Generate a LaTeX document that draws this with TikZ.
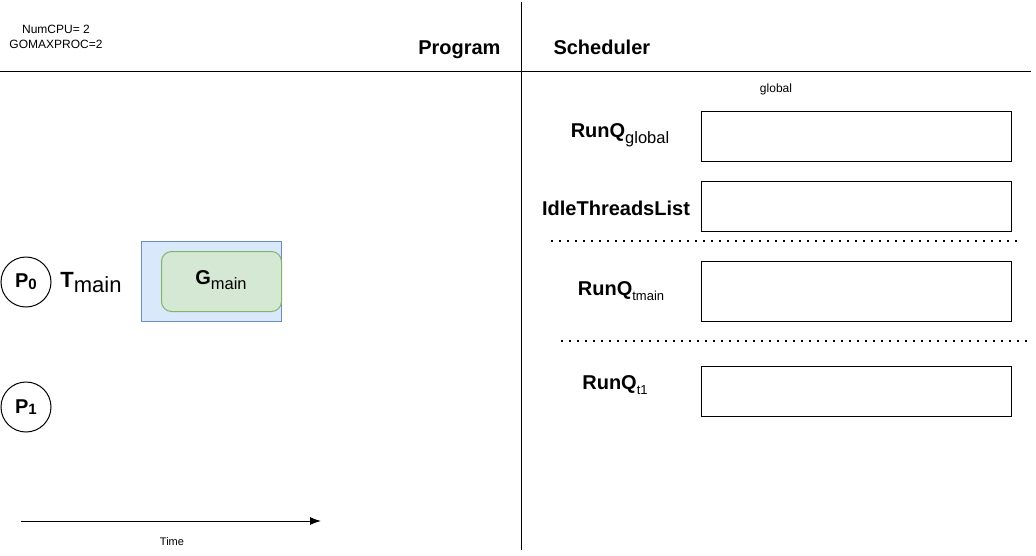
\documentclass[tikz,border=0pt]{standalone}
\usepackage{fontspec}
\setmainfont{Liberation Sans}
\usetikzlibrary{positioning}
\usetikzlibrary{arrows.meta}
\definecolor{gofill}{HTML}{D5E8D4}
\definecolor{godraw}{HTML}{82B366}
\definecolor{thfill}{HTML}{DAE8FC}
\definecolor{thdraw}{HTML}{6C8EBF}
\newcommand{\fsz}[1]{\fontsize{#1}{#1}\selectfont}

\begin{document}
\begin{tikzpicture}[x=1pt, y=-1pt, line width=1pt]

% used shapes
\tikzstyle{queue} = [rectangle, draw, anchor=north west, inner sep=0pt, minimum width=310pt, minimum height=50pt]
\tikzstyle{proc} = [circle, draw, inner sep=0pt, minimum size=50pt, font=\fsz{20}\bfseries]
\tikzstyle{qlabel} = [inner sep=0pt, font=\fsz{20}\bfseries]
\tikzstyle{small} = [inner sep=0pt, font=\fsz{12}]
\tikzstyle{sep} = [line width=1.6pt, dash pattern=on 1.6pt off 6.4pt]

\useasboundingbox (0,0) rectangle (1036,555);

% frame
\coordinate (vtop) at (521,2);
\coordinate (vbot) at (521,550);
\coordinate (hl) at (0,71);
\coordinate (hr) at (1031,71);
\draw (vtop) -- (vbot);
\draw (hl) -- (hr);

\node [small] (numcpu) at (56,29) {NumCPU= 2};
\node [small] (gomax) at (56,44) {GOMAXPROC=2};

\node [qlabel, anchor=base east] (program) at (501,54) {Program};
\node [qlabel, anchor=base west] (sched) at (553,54) {Scheduler};

% program side
\node [proc] (p0) at (26,282) {P\raisebox{-2pt}{\fsz{15}0}};
\node [proc] (p1) at (26,407) {P\raisebox{-1pt}{\fsz{15}1}};

\node [inner sep=0pt, font=\fsz{22}] (tmain) at (91,283) {\textbf{T}\raisebox{-5pt}{main}};

\node [rectangle, draw=thdraw, fill=thfill, anchor=north west, inner sep=0pt,
       minimum width=140pt, minimum height=80pt] (thread) at (141,241) {};
\node [rectangle, draw=godraw, fill=gofill, rounded corners=10pt, anchor=north west,
       inner sep=0pt, minimum width=120pt, minimum height=60pt] (gmainbox) at (161,251) {};
\node [qlabel] (gmain) at (221,280) {G\raisebox{-5pt}{\fsz{16.5}\mdseries main}};

\coordinate (tstart) at (21,521);
\coordinate (tend) at (321,521);
\draw [-{Latex[length=11pt, width=8pt]}] (tstart) -- (tend);
\node [small, font=\fsz{11}] (time) at (172,542) {Time};

% scheduler side
\node [small] (global) at (776,89) {global};

\node [queue] (rqglobal) at (701,111) {};
\node [qlabel] (lglobal) at (620,135) {RunQ\raisebox{-6pt}{\fsz{16.5}\mdseries global}};

\node [queue] (idle) at (701,181) {};
\node [qlabel] (lidle) at (616,208) {IdleThreadsList};

\coordinate (s1a) at (551,241);
\coordinate (s1b) at (1017,241);
\draw [sep] (s1a) -- (s1b);

\node [queue, minimum height=60pt] (rqtmain) at (701,261) {};
\node [qlabel] (ltmain) at (621,291) {RunQ\raisebox{-5pt}{\fsz{13}\mdseries tmain}};

\coordinate (s2a) at (561,341);
\coordinate (s2b) at (1027,341);
\draw [sep] (s2a) -- (s2b);

\node [queue] (rqt1) at (701,366) {};
\node [qlabel] (lt1) at (615,385) {RunQ\raisebox{-5pt}{\fsz{13}\mdseries t1}};

\end{tikzpicture}
\end{document}
